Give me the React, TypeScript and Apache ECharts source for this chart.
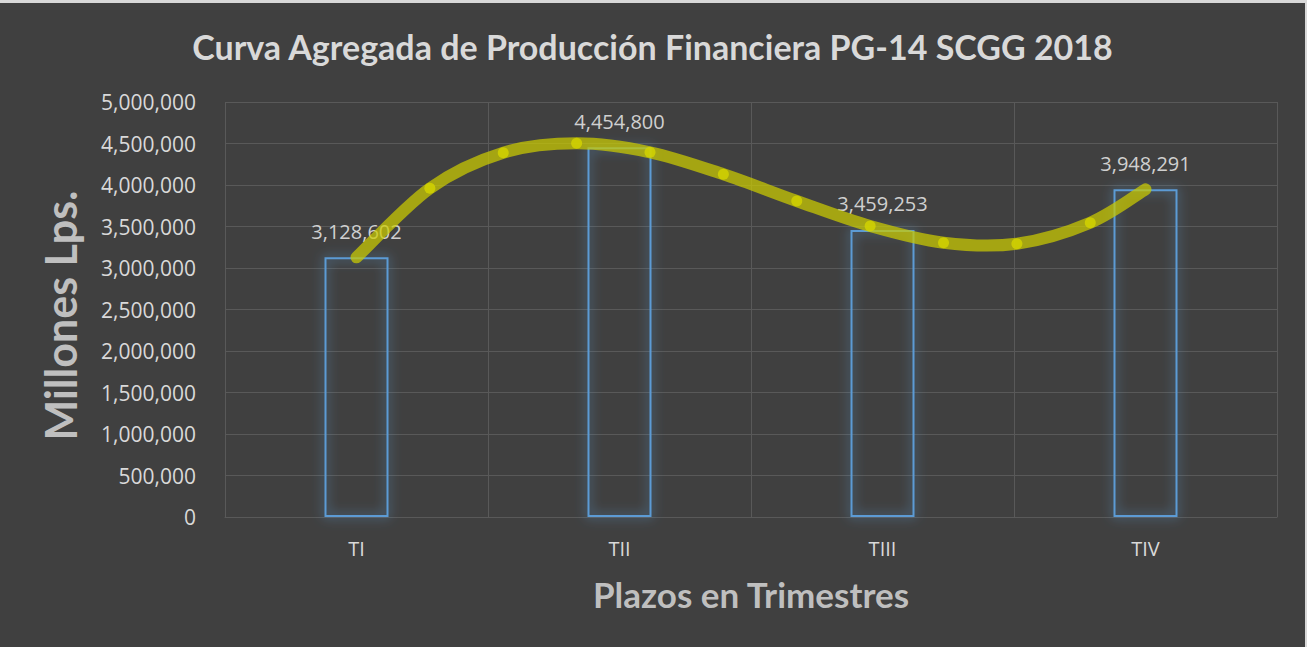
import React, { useEffect, useRef } from "react";
import * as echarts from "echarts";

const categories = ["TI", "TII", "TIII", "TIV"];
const barValues = [3128602, 4454800, 3459253, 3948291];
const curveX = [0, 0.279, 0.558, 0.837, 1.116, 1.395, 1.674, 1.953, 2.232, 2.511, 2.79, 3.0];
const curveY = [3128602, 3960000, 4389000, 4502000, 4394000, 4129000, 3807000, 3506000, 3305000, 3293000, 3546000, 3948291];
const yTicks = { min: 0, max: 5000000, interval: 500000 };
const titleText = "Curva Agregada de Producción Financiera PG-14 SCGG 2018";
const yName = "Millones Lps.";
const xName = "Plazos en Trimestres";

const BOLD_FONT = "Lato";
const FONT = "Open Sans";
const fmt = (v: number) => v.toLocaleString("en-US");

export default function App() {
  const ref = useRef<HTMLDivElement>(null);
  useEffect(() => {
    document.body.style.margin = "0";
    document.body.style.background = "#d9d9d9";
    const chart = echarts.init(ref.current!, null, { renderer: "svg" });
    const markerData = curveX
      .map((x, i) => [x, curveY[i]])
      .filter((_, i) => i > 0 && i < curveX.length - 1);
    chart.setOption({
      animation: false,
      backgroundColor: "#404040",
      textStyle: { fontFamily: FONT },
      title: {
        text: titleText,
        left: "center",
        top: 21,
        textStyle: { color: "#d9d9d9", fontSize: 34, fontWeight: "bold", fontFamily: BOLD_FONT },
      },
      grid: { left: 225, right: 28, top: 99, bottom: 130 },
      xAxis: [
        {
          type: "category",
          data: categories,
          name: xName,
          nameLocation: "middle",
          nameGap: 59,
          nameTextStyle: { color: "#bfbfbf", fontSize: 35, fontWeight: "bold", fontFamily: BOLD_FONT },
          axisLine: { show: true, lineStyle: { color: "#595959", width: 1 } },
          axisTick: { show: false },
          axisLabel: { color: "#d9d9d9", fontSize: 20, margin: 21, fontFamily: FONT },
          splitLine: { show: true, lineStyle: { color: "#595959", width: 1 } },
        },
        {
          type: "value",
          min: -0.5,
          max: 3.5,
          show: false,
        },
      ],
      yAxis: {
        type: "value",
        min: yTicks.min,
        max: yTicks.max,
        interval: yTicks.interval,
        name: yName,
        nameLocation: "middle",
        nameGap: 143,
        nameTextStyle: { color: "#bfbfbf", fontSize: 43, fontWeight: "bold", fontFamily: BOLD_FONT, padding: [0, 12, 0, 0] },
        axisLine: { show: false },
        axisTick: { show: false },
        axisLabel: { color: "#d9d9d9", fontSize: 21, margin: 29, formatter: (v: number) => fmt(v), fontFamily: FONT },
        splitLine: { show: true, lineStyle: { color: "#595959", width: 1 } },
      },
      series: [
        {
          type: "bar",
          data: barValues,
          barWidth: 64,
          itemStyle: {
            color: "rgba(0,0,0,0)",
            borderColor: "#5b9bd5",
            borderWidth: 2,
            shadowBlur: 12,
            shadowColor: "rgba(91,155,213,1)",
          },
          label: {
            show: true,
            position: "top",
            distance: 16,
            color: "#d0d0d0",
            fontSize: 20,
            fontFamily: FONT,
            formatter: (p: any) => fmt(p.value),
          },
          z: 2,
        },
        {
          type: "custom",
          xAxisIndex: 1,
          yAxisIndex: 0,
          data: [[curveX[0], curveY[0]]],
          z: 3,
          renderItem: (params: any, api: any) => {
            const pts = curveX.map((x, i) => api.coord([x, curveY[i]]));
            const n = pts.length;
            let d = `M${pts[0][0]},${pts[0][1]}`;
            for (let i = 0; i < n - 1; i++) {
              const p0 = pts[Math.max(i - 1, 0)];
              const p1 = pts[i];
              const p2 = pts[i + 1];
              const p3 = pts[Math.min(i + 2, n - 1)];
              const c1x = p1[0] + (p2[0] - p0[0]) / 6;
              const c1y = p1[1] + (p2[1] - p0[1]) / 6;
              const c2x = p2[0] - (p3[0] - p1[0]) / 6;
              const c2y = p2[1] - (p3[1] - p1[1]) / 6;
              d += ` C${c1x},${c1y} ${c2x},${c2y} ${p2[0]},${p2[1]}`;
            }
            return {
              type: "path",
              shape: { pathData: d },
              style: { fill: "none", stroke: "rgba(204,204,0,0.72)", lineWidth: 12, lineCap: "round" },
            };
          },
        },
        {
          type: "scatter",
          xAxisIndex: 1,
          yAxisIndex: 0,
          data: markerData,
          symbolSize: 11,
          itemStyle: { color: "#d4d400" },
          z: 4,
        },
      ],
    });
    return () => chart.dispose();
  }, []);
  return <div ref={ref} style={{ position: "absolute", left: 0, top: 3, width: 1305, height: 644 }} />;
}
